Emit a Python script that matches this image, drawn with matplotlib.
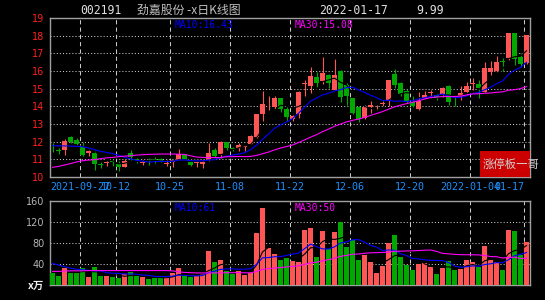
import matplotlib
matplotlib.use('Agg')
import matplotlib.pyplot as plt
from matplotlib.patches import Rectangle
import numpy as np

# 80 trading days, 2021-09-16 .. 2022-01-17
opens = [11.60, 11.50, 11.53, 12.26, 12.09, 11.70, 11.34, 11.38, 10.70, 10.77,
         10.90, 10.72, 10.58, 11.38, 10.98, 10.80, 10.92, 10.98, 11.02, 10.75,
         10.87, 10.98, 11.28, 10.83, 10.77, 10.74, 10.96, 11.53, 11.30, 11.98,
         11.62, 11.66, 11.72, 11.87, 12.28, 13.57, 14.28, 13.96, 14.47, 13.83,
         13.28, 13.57, 15.25, 15.17, 15.64, 15.43, 15.77, 14.95, 16.00, 15.20,
         14.45, 13.96, 13.32, 13.96, 13.94, 14.15, 14.32, 15.83, 15.34, 14.89,
         14.26, 13.83, 14.47, 14.75, 14.64, 14.70, 15.15, 14.42, 14.58, 14.79,
         15.28, 15.26, 14.83, 15.96, 16.00, 16.54, 16.72, 18.15, 16.77, 16.43]
highs = [11.90, 11.66, 12.15, 12.30, 12.23, 12.00, 11.55, 11.53, 10.87, 10.90,
         11.00, 10.90, 11.00, 11.53, 11.10, 10.96, 11.05, 11.15, 11.05, 10.96,
         10.98, 11.58, 11.30, 10.85, 10.85, 10.90, 11.92, 11.62, 12.05, 12.00,
         11.72, 11.90, 11.80, 12.35, 13.57, 14.87, 14.58, 14.58, 14.50, 13.96,
         13.52, 14.85, 15.49, 16.20, 15.96, 16.81, 15.85, 16.68, 16.05, 15.30,
         14.50, 14.00, 14.05, 14.30, 14.08, 14.30, 15.50, 16.11, 15.40, 15.00,
         14.58, 14.83, 14.89, 14.92, 14.70, 15.10, 15.20, 14.60, 15.15, 15.39,
         15.59, 15.49, 16.52, 16.58, 16.85, 16.75, 18.15, 18.15, 17.00, 18.03]
lows = [11.43, 11.28, 11.25, 11.92, 11.80, 11.20, 11.20, 10.40, 10.49, 10.62,
        10.62, 10.36, 10.55, 10.96, 10.80, 10.68, 10.68, 10.77, 10.85, 10.60,
        10.58, 10.95, 10.95, 10.62, 10.55, 10.50, 10.90, 11.05, 11.10, 11.55,
        11.45, 11.50, 11.50, 11.85, 12.20, 13.17, 13.79, 13.83, 13.70, 13.19,
        13.15, 13.36, 14.60, 14.77, 15.11, 15.25, 15.02, 14.90, 14.26, 14.10,
        13.55, 13.13, 13.30, 13.64, 13.80, 13.96, 14.00, 15.02, 14.60, 14.20,
        13.94, 13.80, 14.40, 14.45, 14.36, 14.55, 14.07, 14.00, 14.36, 14.64,
        14.92, 14.45, 14.80, 15.77, 15.95, 16.00, 16.62, 16.34, 16.24, 16.40]
closes = [11.56, 11.47, 12.04, 12.00, 11.88, 11.25, 11.47, 10.72, 10.68, 10.87,
          10.87, 10.58, 10.89, 11.11, 10.96, 10.85, 10.90, 10.96, 10.87, 10.80,
          10.96, 11.28, 10.98, 10.70, 10.83, 10.85, 11.36, 11.19, 11.98, 11.64,
          11.60, 11.81, 11.78, 12.32, 13.55, 14.13, 14.30, 14.47, 13.85, 13.38,
          13.45, 14.81, 15.28, 15.72, 15.30, 15.87, 15.30, 15.79, 14.54, 14.58,
          13.60, 13.26, 13.96, 14.08, 13.96, 14.17, 15.49, 15.21, 14.70, 14.30,
          14.02, 14.32, 14.64, 14.77, 14.50, 15.04, 14.26, 14.39, 14.77, 15.17,
          15.30, 15.02, 16.15, 16.19, 16.52, 16.50, 18.15, 16.66, 16.39, 18.03]
volumes = [23, 16.7, 33.3, 23, 23, 32, 14.7, 34, 16.7, 16.7,
           14.7, 12.8, 21.8, 25, 17.3, 14.7, 11.5, 13.5, 13.5, 16,
           22.4, 32.7, 17.9, 14.7, 16.7, 21.8, 65, 43, 47, 26,
           21.8, 26, 19.9, 23, 99, 147, 70, 59, 48, 51,
           45.5, 44, 105, 109, 53, 103, 68, 101, 120.5, 72,
           85, 48, 57.7, 44, 23, 36.5, 80, 95.5, 53, 38.5,
           28, 40, 41.7, 34, 20.5, 32.7, 44.9, 28, 30.8, 47.4,
           43.6, 34, 74, 47.4, 44, 28, 105, 103, 58, 82]

# moving-average values of the first days (history before the window)
ma10_head = [11.77, 11.77, 11.76, 11.75, 11.74, 11.71, 11.65, 11.55, 11.45]
ma30_head = [10.55, 10.60, 10.68, 10.76, 10.85, 10.92, 10.96, 10.98, 11.04, 11.08,
             11.11, 11.15, 11.18, 11.20, 11.24, 11.26, 11.28, 11.29, 11.30, 11.30,
             11.30, 11.29, 11.28, 11.20, 11.13, 11.11, 11.10, 11.10, 11.10]
vol_ma10_head = [41, 38, 35, 32, 30, 29, 28, 27, 27]
vol_ma30_head = [26, 26, 26.5, 27, 27, 27, 27.5, 27.5, 27.5, 27.5,
                 27.5, 27.5, 27.5, 27.5, 27.5, 27.5, 27.5, 27.5, 27.5, 27.5,
                 27, 25, 24, 23.5, 23, 23, 23, 23, 23]

tick_idx = [5, 11, 20, 30, 40, 50, 60, 70, 79]
tick_labels = ['2021-09-27', '10-12', '10-25', '11-08', '11-22', '12-06',
               '12-20', '2022-01-04', '01-17']

# legend texts as printed on the chart
price_ma_labels = ['MA10:16.43', 'MA30:15.08']
vol_ma_labels = ['MA10:61', 'MA30:50']

RED = '#ff5555'
GREEN = '#00a800'
BLUE = '#0000ff'
MAG = '#ff00ff'
GRID = '#c8c8c8'
FRAME = '#a0a0a0'
MONO = ['DejaVu Sans Mono', 'Noto Sans CJK SC']
CJK = ['Noto Sans CJK SC', 'DejaVu Sans']

W, H = 545, 300


def fx(px):
    return px / W


def fy(py):
    return 1 - py / H


def moving_avg(vals, n, head):
    # returns (start index, values)
    out = list(head)
    first = len(head) if head else n - 1
    for i in range(first, len(vals)):
        out.append(np.mean(vals[i - n + 1:i + 1]))
    return (0 if head else n - 1), np.array(out)


n = len(closes)
x = np.arange(n)
o = np.array(opens)
c = np.array(closes)
up = c >= o
cols = [RED if u else GREEN for u in up]

fig = plt.figure(figsize=(5.45, 3.0), dpi=100, facecolor='black')
ax = fig.add_axes([fx(50), fy(177), fx(480), 159 / H])
axv = fig.add_axes([fx(50), fy(285), fx(480), 84 / H])

xl = (-0.42, n - 0.42)
for a in (ax, axv):
    a.set_facecolor('black')
    a.set_xlim(*xl)
    for s in a.spines.values():
        s.set_color(FRAME)
        s.set_linewidth(1.0)
    a.tick_params(length=0, labelbottom=False)
    for t in tick_idx:
        a.axvline(t - 0.42, color=GRID, lw=0.75, ls=(0, (4, 3)), zorder=1)

# price panel
ax.set_ylim(10, 19)
ax.set_yticks(range(10, 20))
ax.set_yticklabels([str(v) for v in range(10, 20)], color='#ff2020', fontsize=7)
ax.tick_params(axis='y', pad=4)
for v in range(11, 19):
    ax.axhline(v, color=GRID, lw=0.75, ls=(0, (1, 2)), zorder=1)

body_lo = np.minimum(o, c)
body_h = np.maximum(np.abs(c - o), 0.05)
ax.vlines(x, lows, highs, colors=cols, lw=0.8, zorder=3)
ax.bar(x, body_h, bottom=body_lo, width=0.83, color=cols, lw=0, zorder=3)

s5, ma5 = moving_avg(c, 5, [])
_, ma10 = moving_avg(c, 10, ma10_head)
_, ma30 = moving_avg(c, 30, ma30_head)
ax.plot(x[s5:], ma5, color='black', lw=0.8, zorder=4)
ax.plot(x, ma10, color=BLUE, lw=0.8, zorder=5)
ax.plot(x, ma30, color=MAG, lw=0.8, zorder=5)

# volume panel
vol = np.array(volumes)
axv.set_ylim(0, 160)
axv.set_yticks([40, 80, 120, 160])
axv.set_yticklabels(['40', '80', '120', '160'], color='#b4b4b4', fontsize=7)
axv.tick_params(axis='y', pad=4)
for v in (40, 80, 120):
    axv.axhline(v, color=GRID, lw=0.75, ls=(0, (1, 2)), zorder=1)
axv.bar(x, vol, width=0.83, color=cols, lw=0, zorder=3)
vs5, vma5 = moving_avg(vol, 5, [])
_, vma10 = moving_avg(vol, 10, vol_ma10_head)
_, vma30 = moving_avg(vol, 30, vol_ma30_head)
axv.plot(x[vs5:], vma5, color='black', lw=0.8, zorder=4)
axv.plot(x, vma10, color=BLUE, lw=0.8, zorder=5)
axv.plot(x, vma30, color=MAG, lw=0.8, zorder=5)

# date labels (they overlap at both ends, as in the original)
for i, (t, lab) in enumerate(zip(tick_idx, tick_labels)):
    ha = 'center'
    xp = t - 0.42
    if i == 0:
        ha, xp = 'left', xl[0]
    elif i == len(tick_idx) - 1:
        ha = 'right'
    ax.text(xp, -0.06, lab, transform=ax.get_xaxis_transform(), ha=ha, va='center',
            color='#1e90ff', fontsize=7.2, family=MONO, clip_on=False)

# header
hy = fy(10)
fig.text(fx(80), hy, '002191', color='#e0e0e0', fontsize=8.3, family=MONO, va='center')
fig.text(fx(137), hy, '劲嘉股份 -x日K线图', color='#c0c0c0', fontsize=8.6, family=CJK, va='center')
fig.text(fx(319), hy, '2022-01-17', color='#e0e0e0', fontsize=8.3, family=MONO, va='center')
fig.text(fx(416), hy, '9.99', color='#e0e0e0', fontsize=8.3, family=MONO, va='center')

fig.text(fx(175), fy(25), price_ma_labels[0], color=BLUE, fontsize=7, family=MONO, va='center')
fig.text(fx(295), fy(25), price_ma_labels[1], color=MAG, fontsize=7, family=MONO, va='center')
fig.text(fx(175), fy(208), vol_ma_labels[0], color=BLUE, fontsize=7, family=MONO, va='center')
fig.text(fx(295), fy(208), vol_ma_labels[1], color=MAG, fontsize=7, family=MONO, va='center')

fig.text(fx(44), fy(286), 'x万', color='#f0f0f0', fontsize=7.5, family=CJK,
         ha='right', va='center', weight='bold')

# badge
fig.add_artist(Rectangle((fx(480), fy(177)), fx(50), 26 / H, transform=fig.transFigure,
                         facecolor='#cc0000', edgecolor='none', zorder=10))
fig.text(fx(483), fy(164), '涨停板一哥', color='#d0d0d0', fontsize=8.2, family=CJK,
         va='center', zorder=11)

fig.savefig('out.png', dpi=100, facecolor='black')
